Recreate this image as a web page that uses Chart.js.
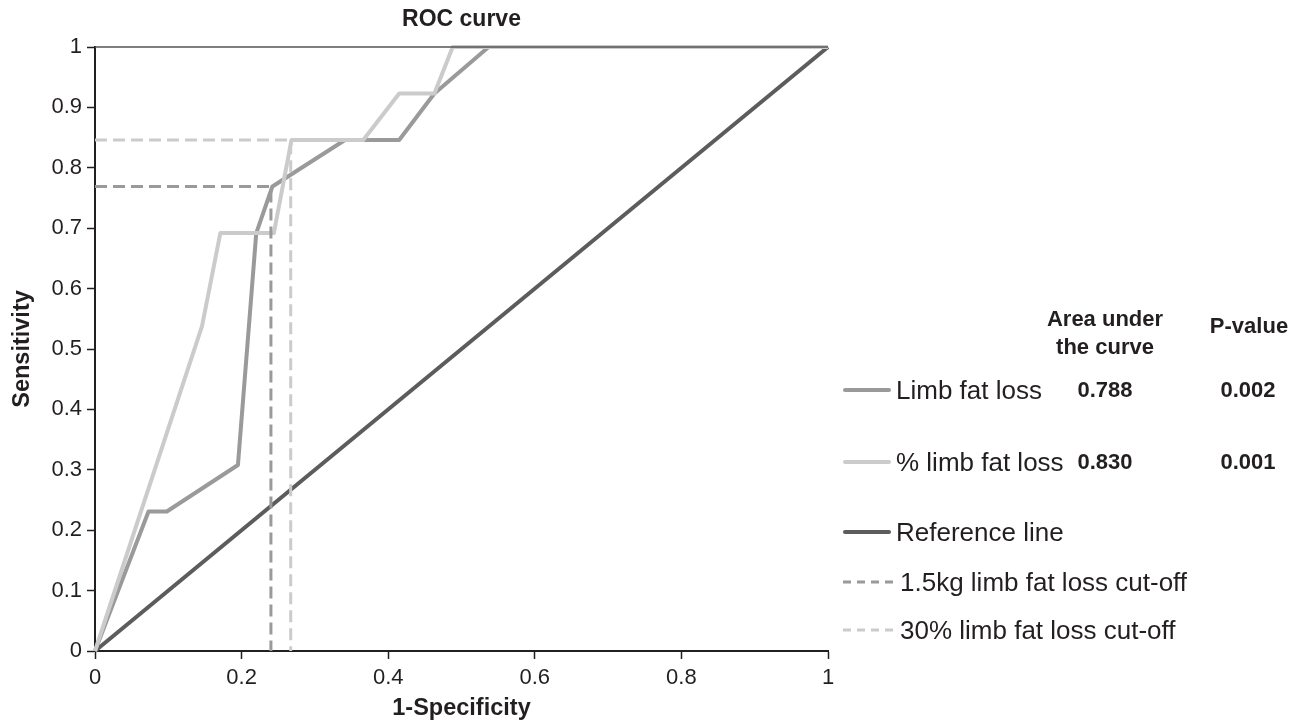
<!DOCTYPE html>
<html>
<head>
<meta charset="utf-8">
<script src="https://cdn.jsdelivr.net/npm/chart.js@4.4.1/dist/chart.umd.min.js"></script>
<style>
  html, body { margin: 0; padding: 0; background: #fff; }
</style>
</head>
<body>
<canvas id="rocChart" width="1298" height="723"></canvas>
<script>
// ROC curve values
const limbFatX = [0, 0.073, 0.098, 0.195, 0.220, 0.242, 0.341, 0.415, 0.463, 0.537, 1];
const limbFatY = [0, 0.231, 0.231, 0.308, 0.692, 0.769, 0.846, 0.846, 0.923, 1, 1];

const pctLimbFatX = [0, 0.146, 0.171, 0.244, 0.268, 0.366, 0.415, 0.463, 0.488, 1];
const pctLimbFatY = [0, 0.538, 0.692, 0.692, 0.846, 0.846, 0.923, 0.923, 1, 1];

const referenceX = [0, 1];
const referenceY = [0, 1];

// cut-off guides: [x, sensitivity]
const cutoff15kg = [0.240, 0.769];
const cutoff30pct = [0.267, 0.846];

const seriesLabels = ['Limb fat loss', '% limb fat loss', 'Reference line',
  '1.5kg limb fat loss cut-off', '30% limb fat loss cut-off'];
const aucValues = ['0.788', '0.830'];
const pValues = ['0.002', '0.001'];

const textColor = '#231f20';
const fontFamily = '"Liberation Sans", Arial, sans-serif';

function toPoints(xs, ys) {
  return xs.map((x, i) => ({ x: x, y: ys[i] }));
}

function cutoffPoints(c) {
  return toPoints([0, c[0], c[0]], [c[1], c[1], 0]);
}

// 0, 0.1 ... 1 without trailing ".0"
function tickLabel(v) {
  return String(Number(v.toFixed(1)));
}

// title, top frame line and the legend / AUC table
const extrasPlugin = {
  id: 'extras',
  afterDraw(chart) {
    const { ctx, chartArea } = chart;
    const ds = chart.data.datasets;
    ctx.save();

    // thin top border
    ctx.strokeStyle = '#555';
    ctx.lineWidth = 1.5;
    ctx.beginPath();
    ctx.moveTo(chartArea.left, chartArea.top);
    ctx.lineTo(chartArea.right, chartArea.top);
    ctx.stroke();

    ctx.fillStyle = textColor;
    ctx.textAlign = 'center';
    ctx.textBaseline = 'middle';
    ctx.font = 'bold 23px ' + fontFamily;
    ctx.fillText('ROC curve', (chartArea.left + chartArea.right) / 2, 20);

    // table headers
    ctx.font = 'bold 22px ' + fontFamily;
    ctx.fillText('Area under', 1105, 320);
    ctx.fillText('the curve', 1105, 348);
    ctx.fillText('P-value', 1249, 327);

    const rowY = [390, 462, 532, 582, 630];
    rowY.forEach((y, i) => {
      const d = ds[i];
      ctx.strokeStyle = d.borderColor;
      ctx.lineWidth = d.borderDash ? 3 : 4;
      ctx.lineCap = d.borderDash ? 'butt' : 'round';
      ctx.setLineDash(d.borderDash ? [8, 6] : []);
      ctx.beginPath();
      ctx.moveTo(d.borderDash ? 843 : 845, y);
      ctx.lineTo(d.borderDash ? 893 : 889, y);
      ctx.stroke();
      ctx.setLineDash([]);

      ctx.fillStyle = textColor;
      ctx.textAlign = 'left';
      ctx.font = '26px ' + fontFamily;
      ctx.fillText(d.label, d.borderDash ? 900 : 896, y + 2);

      if (i < aucValues.length) {
        ctx.textAlign = 'center';
        ctx.font = 'bold 22px ' + fontFamily;
        ctx.fillText(aucValues[i], 1105, y + 1);
        ctx.fillText(pValues[i], 1248, y + 1);
      }
    });
    ctx.restore();
  }
};

const ctx = document.getElementById('rocChart').getContext('2d');

const config = {
  type: 'scatter',
  data: {
    datasets: [
      {
        label: seriesLabels[0],
        data: toPoints(limbFatX, limbFatY),
        borderColor: '#9a9a9c',
        borderWidth: 4,
        order: 4,
      },
      {
        label: seriesLabels[1],
        data: toPoints(pctLimbFatX, pctLimbFatY),
        borderColor: '#cbcbcc',
        borderWidth: 4,
        order: 3,
      },
      {
        label: seriesLabels[2],
        data: toPoints(referenceX, referenceY),
        borderColor: '#5c5c5e',
        borderWidth: 4,
        order: 5,
      },
      {
        label: seriesLabels[3],
        data: cutoffPoints(cutoff15kg),
        borderColor: '#9a9a9c',
        borderWidth: 3,
        borderDash: [12, 6],
        order: 2,
      },
      {
        label: seriesLabels[4],
        data: cutoffPoints(cutoff30pct),
        borderColor: '#cbcbcc',
        borderWidth: 3,
        borderDash: [12, 6],
        order: 1,
      },
    ],
  },
  options: {
    responsive: false,
    animation: false,
    showLine: true,
    clip: false,
    elements: {
      point: { radius: 0, hoverRadius: 0 },
      line: { tension: 0, borderJoinStyle: 'round', fill: false },
    },
    layout: {
      padding: { top: 47, right: 470, bottom: 0, left: 0 },
    },
    plugins: {
      legend: { display: false },
      tooltip: { enabled: false },
    },
    scales: {
      x: {
        type: 'linear',
        min: 0,
        max: 1,
        afterFit: (s) => { s.height = 72; },
        ticks: {
          stepSize: 0.2,
          color: textColor,
          padding: 6,
          callback: tickLabel,
          font: { family: fontFamily, size: 22 },
        },
        grid: {
          drawOnChartArea: false,
          drawTicks: true,
          tickLength: 8,
          tickWidth: 1.5,
          color: textColor,
        },
        border: { display: true, color: textColor, width: 2 },
        title: {
          display: true,
          text: '1-Specificity',
          color: textColor,
          padding: { top: 0, bottom: 0 },
          font: { family: fontFamily, size: 23.5, weight: 'bold' },
        },
      },
      y: {
        type: 'linear',
        min: 0,
        max: 1,
        afterFit: (s) => { s.width = 95; },
        ticks: {
          stepSize: 0.1,
          color: textColor,
          padding: 5,
          callback: tickLabel,
          font: { family: fontFamily, size: 22 },
        },
        grid: {
          drawOnChartArea: false,
          drawTicks: true,
          tickLength: 8,
          tickWidth: 1.5,
          color: textColor,
        },
        border: { display: true, color: textColor, width: 2 },
        title: {
          display: true,
          text: 'Sensitivity',
          color: textColor,
          padding: { top: 8, bottom: 0 },
          font: { family: fontFamily, size: 23.5, weight: 'bold' },
        },
      },
    },
  },
  plugins: [extrasPlugin],
};

const rocChart = new Chart(ctx, config);
</script>
</body>
</html>
